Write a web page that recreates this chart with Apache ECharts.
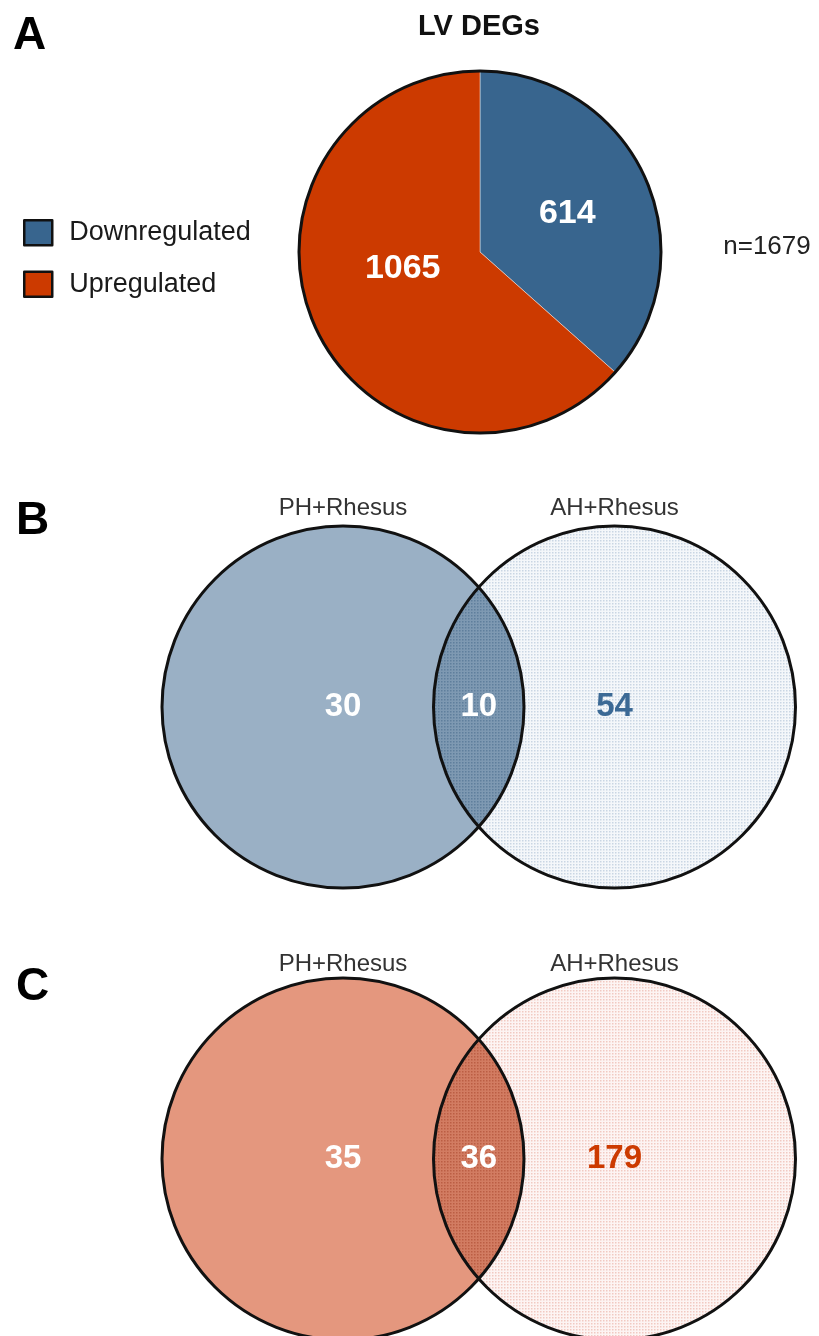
<!DOCTYPE html>
<html>
<head>
<meta charset="utf-8">
<script src="https://cdn.jsdelivr.net/npm/echarts@6/dist/echarts.min.js"></script>
<style>
  html, body { margin: 0; padding: 0; background: #fff; }
  #chart { width: 819px; height: 1336px; }
</style>
</head>
<body>
<div id="chart"></div>
<script>
// ---- data ----
const pieCategories = ['Downregulated', 'Upregulated'];
const pieValues = [614, 1065];
const vennSetNames = ['PH+Rhesus', 'AH+Rhesus'];
const vennRegions = ['PH+Rhesus only', 'Shared', 'AH+Rhesus only'];
const downCounts = [30, 10, 54];   // panel B: downregulated genes
const upCounts = [35, 36, 179];    // panel C: upregulated genes

// ---- styling / layout ----
const FONT = '"Liberation Sans", Arial, Helvetica, sans-serif';
const pieColors = ['#38658e', '#cc3a00'];
const pieLabelOffsets = [[2, 0], [8, -22]];

// Venn layout in axis units: unit circles, centres 1.5 apart
const RADIUS = 1;
const SEP = 1.5;
const COUNT_X = [0, SEP / 2, SEP];
const SET_LABEL_Y = 1.1;

function dotPattern(base, dot, step, size) {
  const c = document.createElement('canvas');
  c.width = step; c.height = step;
  const g = c.getContext('2d');
  g.fillStyle = base; g.fillRect(0, 0, step, step);
  g.fillStyle = dot; g.fillRect(0, 0, size, size);
  return { image: c, repeat: 'repeat' };
}

const blueTheme = {
  left: '#9ab0c5',
  right: dotPattern('#f4f7fa', '#c9d6e3', 3, 1.5),
  lens: dotPattern('#7e99b2', '#5f7f9c', 3, 1.5),
  labelColors: ['#ffffff', '#ffffff', '#3b6995']
};
const redTheme = {
  left: '#e4977e',
  right: dotPattern('#fdf4f3', '#f1c9c2', 3, 1.5),
  lens: dotPattern('#d27c62', '#bb5e44', 3, 1.5),
  labelColors: ['#ffffff', '#ffffff', '#cc3a00']
};

function vennRenderer(theme) {
  return function (params, api) {
    const c1 = api.coord([0, 0]);
    const c2 = api.coord([SEP, 0]);
    const r = api.size([RADIUS, 0])[0];
    const yc = c1[1];
    const d = c2[0] - c1[0];
    const h = Math.sqrt(r * r - d * d / 4);
    const xm = (c1[0] + c2[0]) / 2;
    const lens = 'M ' + xm + ' ' + (yc - h) +
      ' A ' + r + ' ' + r + ' 0 0 1 ' + xm + ' ' + (yc + h) +
      ' A ' + r + ' ' + r + ' 0 0 1 ' + xm + ' ' + (yc - h) + ' Z';
    const ly = api.coord([0, SET_LABEL_Y])[1];
    const setText = (x, t) => ({
      type: 'text', x: x, y: ly,
      style: { text: t, fontFamily: FONT, fontSize: 24, fill: '#333',
               align: 'center', verticalAlign: 'middle' }
    });
    return {
      type: 'group',
      children: [
        { type: 'circle', shape: { cx: c1[0], cy: yc, r: r }, style: { fill: theme.left } },
        { type: 'circle', shape: { cx: c2[0], cy: yc, r: r }, style: { fill: theme.right } },
        { type: 'path', shape: { pathData: lens }, style: { fill: theme.lens } },
        { type: 'circle', shape: { cx: c1[0], cy: yc, r: r }, style: { fill: 'none', stroke: '#111', lineWidth: 3 } },
        { type: 'circle', shape: { cx: c2[0], cy: yc, r: r }, style: { fill: 'none', stroke: '#111', lineWidth: 3 } },
        setText(c1[0], vennSetNames[0]),
        setText(c2[0], vennSetNames[1])
      ]
    };
  };
}

function countSeries(gridIdx, counts, theme) {
  return {
    type: 'scatter',
    xAxisIndex: gridIdx, yAxisIndex: gridIdx,
    symbolSize: 1,
    itemStyle: { color: 'transparent', opacity: 1 },
    silent: true, z: 5,
    data: counts.map((v, i) => ({
      name: vennRegions[i],
      value: [COUNT_X[i], 0, v],
      label: { color: theme.labelColors[i] }
    })),
    label: {
      show: true, position: 'inside',
      formatter: p => String(p.value[2]),
      fontFamily: FONT, fontSize: 33, fontWeight: 'bold'
    }
  };
}

const total = pieValues.reduce((a, b) => a + b, 0);
const UNIT = 181;

const gridBase = { left: 162, width: 3.5 * UNIT, height: 2 * UNIT };
const axisX = i => ({ type: 'value', gridIndex: i, min: -1, max: 2.5, show: false });
const axisY = i => ({ type: 'value', gridIndex: i, min: -1, max: 1, show: false });

const letter = (t, x, y) => ({
  type: 'text', x: x, y: y,
  style: { text: t, fontFamily: FONT, fontSize: 46, fontWeight: 'bold', fill: '#000',
           align: 'left', verticalAlign: 'middle' }
});

const chart = echarts.init(document.getElementById('chart'), null, { renderer: 'canvas' });
chart.setOption({
  animation: false,
  backgroundColor: '#fff',
  graphic: [
    letter('A', 13, 36),
    letter('B', 16, 521),
    letter('C', 16, 987),
    { type: 'text', x: 479, y: 27,
      style: { text: 'LV DEGs', fontFamily: FONT, fontSize: 29, fontWeight: 'bold', fill: '#111',
               align: 'center', verticalAlign: 'middle' } },
    { type: 'text', x: 767, y: 247,
      style: { text: 'n=' + total, fontFamily: FONT, fontSize: 26, fill: '#222',
               align: 'center', verticalAlign: 'middle' } }
  ],
  legend: {
    data: pieCategories,
    orient: 'vertical',
    left: 18, top: 214,
    itemWidth: 28, itemHeight: 25, itemGap: 24,
    icon: 'rect',
    itemStyle: { borderColor: '#111', borderWidth: 2.5 },
    textStyle: { fontFamily: FONT, fontSize: 27, color: '#1a1a1a', padding: [0, 0, 0, 12] },
    selectedMode: false
  },
  grid: [
    Object.assign({ top: 526 }, gridBase),
    Object.assign({ top: 982 }, gridBase)
  ],
  xAxis: [axisX(0), axisX(1)],
  yAxis: [axisY(0), axisY(1)],
  series: [
    {
      type: 'pie',
      center: [480, 252], radius: UNIT,
      startAngle: 90, clockwise: true,
      silent: true,
      itemStyle: { borderColor: 'rgba(255,255,255,0.55)', borderWidth: 0.8 },
      labelLine: { show: false },
      label: { show: true, position: 'inside', formatter: '{c}', color: '#fff',
               fontFamily: FONT, fontSize: 34, fontWeight: 'bold' },
      data: pieCategories.map((n, i) => ({
        name: n, value: pieValues[i],
        itemStyle: { color: pieColors[i] },
        label: { offset: pieLabelOffsets[i] }
      }))
    },
    {
      // outer rim of the pie
      type: 'pie',
      center: [480, 252], radius: UNIT,
      silent: true, z: 3,
      label: { show: false }, labelLine: { show: false },
      itemStyle: { color: 'transparent', borderColor: '#111', borderWidth: 3 },
      data: [{ name: 'rim', value: 1 }]
    },
    {
      type: 'custom', xAxisIndex: 0, yAxisIndex: 0, clip: false, silent: true,
      renderItem: vennRenderer(blueTheme), data: [[0, 0]]
    },
    countSeries(0, downCounts, blueTheme),
    {
      type: 'custom', xAxisIndex: 1, yAxisIndex: 1, clip: false, silent: true,
      renderItem: vennRenderer(redTheme), data: [[0, 0]]
    },
    countSeries(1, upCounts, redTheme)
  ]
});
</script>
</body>
</html>
